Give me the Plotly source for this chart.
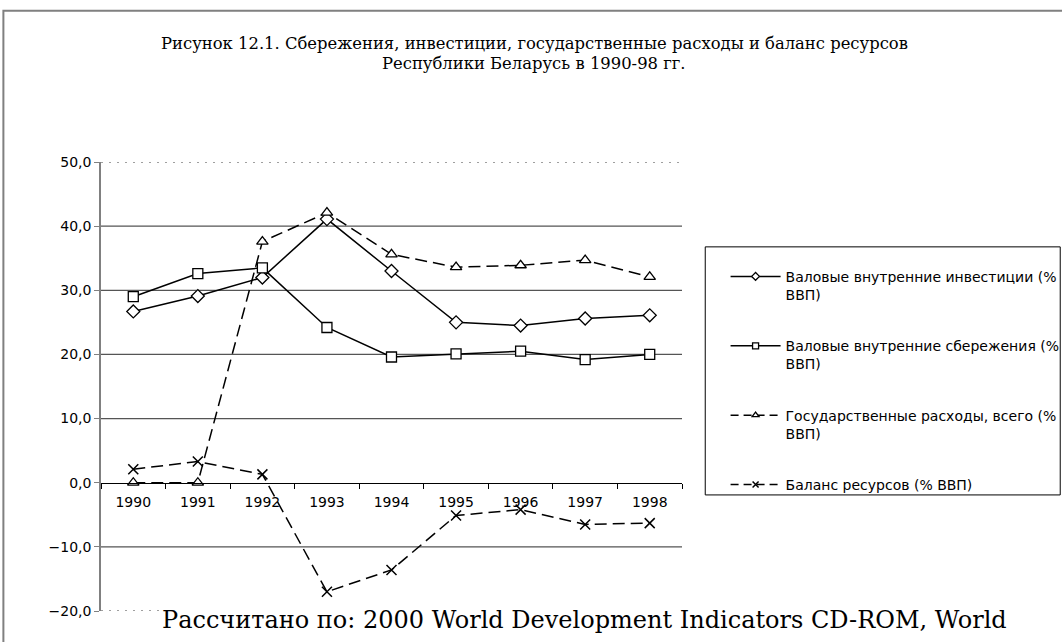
import plotly.graph_objects as go

years = ["1990", "1991", "1992", "1993", "1994", "1995", "1996", "1997", "1998"]
investment = [26.7, 29.1, 32.0, 41.1, 33.0, 25.0, 24.5, 25.6, 26.1]
savings = [29.0, 32.6, 33.5, 24.2, 19.6, 20.1, 20.5, 19.2, 20.0]
gov_spending = [0.0, 0.0, 37.6, 42.1, 35.6, 33.6, 33.9, 34.7, 32.1]
balance = [2.1, 3.3, 1.3, -17.0, -13.6, -5.1, -4.2, -6.5, -6.3]

names = [
    "Валовые внутренние инвестиции (%<br>ВВП)",
    "Валовые внутренние сбережения (%<br>ВВП)",
    "Государственные расходы, всего (%<br>ВВП)",
    "Баланс ресурсов (% ВВП)",
]
y_ticks = [50, 40, 30, 20, 10, 0, -10, -20]
title_line1 = "Рисунок 12.1. Сбережения, инвестиции, государственные расходы и баланс ресурсов"
title_line2 = "Республики Беларусь в 1990-98 гг."
source_text = "Рассчитано по: 2000 World Development Indicators CD-ROM, World"

series = [investment, savings, gov_spending, balance]
symbols = ["diamond", "square", "triangle-up", "x-thin"]
dashes = ["solid", "solid", "12px,6px", "12px,6px"]

SANS = "DejaVu Sans, Arial"
SERIF = "DejaVu Serif, Times New Roman"


def make_marker(sym, size):
    if sym == "x-thin":
        return dict(symbol=sym, size=size, color="black", line=dict(color="black", width=1.5))
    return dict(symbol=sym, size=size, color="white", line=dict(color="black", width=1.3))


fig = go.Figure()
for i, (vals, sym, dsh, nm) in enumerate(zip(series, symbols, dashes, names)):
    fig.add_trace(go.Scatter(
        x=years, y=vals, mode="lines+markers", name=nm,
        line=dict(color="black", width=1.5, dash=dsh),
        marker=make_marker(sym, 10), showlegend=False, legendgroup=f"g{i}",
    ))
# legend-only entries with smaller markers
for i, (sym, dsh, nm) in enumerate(zip(symbols, dashes, names)):
    fig.add_trace(go.Scatter(
        x=[None], y=[None], mode="lines+markers", name=nm,
        line=dict(color="black", width=1.5, dash="solid" if dsh == "solid" else "8px,5px"),
        marker=make_marker(sym, 6), showlegend=True, legendgroup=f"g{i}",
    ))

shapes = []
for v in y_ticks:
    if v == 0:
        continue
    dotted = v in (50, -20)
    shapes.append(dict(type="line", xref="paper", x0=0, x1=1, yref="y", y0=v, y1=v,
                       line=dict(color="#808080" if dotted else "#555555",
                                 width=1.3 if dotted else 1.2,
                                 dash="2px,6px" if dotted else "solid"),
                       layer="below"))
# outer frame
shapes.append(dict(type="rect", xref="paper", yref="paper", x0=-0.168, x1=1.9, y0=-0.5, y1=1.337,
                   line=dict(color="#808080", width=2), fillcolor="rgba(0,0,0,0)", layer="below"))
# legend frame
shapes.append(dict(type="rect", xref="paper", yref="paper", x0=1.040, x1=1.651, y0=0.2585, y1=0.811,
                   line=dict(color="black", width=1), fillcolor="white", layer="below"))

fig.update_layout(
    width=1062, height=642,
    margin=dict(l=101, r=380, t=162, b=31, autoexpand=False),
    paper_bgcolor="white", plot_bgcolor="white",
    separators=", ",
    font=dict(family=SANS, size=14, color="black"),
    showlegend=True,
    legend=dict(x=1.075, y=0.78, xanchor="left", yanchor="top",
                bgcolor="rgba(0,0,0,0)", borderwidth=0,
                font=dict(family=SANS, size=14, color="black"),
                tracegroupgap=30, valign="top", itemwidth=50),
    shapes=shapes,
    annotations=[
        dict(text=title_line1, xref="paper", yref="paper", x=0.746, y=(611 - 44) / 448.7,
             xanchor="center", yanchor="middle", showarrow=False,
             font=dict(family=SERIF, size=16.4, color="black")),
        dict(text=title_line2, xref="paper", yref="paper", x=0.746, y=(611 - 64) / 448.7,
             xanchor="center", yanchor="middle", showarrow=False,
             font=dict(family=SERIF, size=16.4, color="black")),
        dict(text=source_text, xref="paper", yref="paper", x=(160 - 100.7) / 581, y=(611 - 620) / 448.7,
             xanchor="left", yanchor="middle", showarrow=False, bgcolor="white",
             font=dict(family=SERIF, size=24, color="black")),
    ],
    xaxis=dict(
        type="category", anchor="free", position=20 / 70,
        showline=True, linecolor="black", linewidth=1.2,
        ticks="outside", tickson="boundaries", ticklen=5, tickcolor="black",
        ticklabelstandoff=6,
        showgrid=False, zeroline=False,
        tickfont=dict(family=SANS, size=14, color="black"),
        range=[-0.5, 8.5],
    ),
    yaxis=dict(
        range=[-20, 50], tickvals=y_ticks, tickformat=".1f",
        showline=True, linecolor="#808080", linewidth=1.5,
        ticks="outside", ticklen=5, tickcolor="#808080",
        showgrid=False, zeroline=False,
        tickfont=dict(family=SANS, size=14, color="black"),
    ),
)

fig.write_html("out.html", config={"displayModeBar": False},
               post_script="document.body.style.margin='0';")
